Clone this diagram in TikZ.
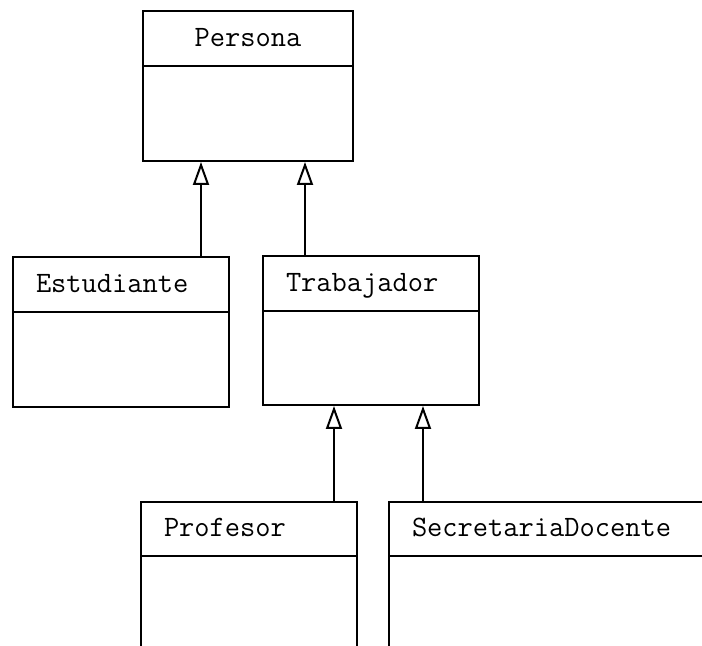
\documentclass[tikz,border=0pt]{standalone}
\usepackage{fontspec}
\usetikzlibrary{arrows.meta}

\begin{document}
\begin{tikzpicture}[x=0.5pt, y=-0.5pt, line width=1pt,
  clase/.style={draw, rectangle, anchor=north west, inner sep=0pt, minimum height=75pt},
  nombre/.style={font=\ttfamily\fontsize{14.8}{16}\selectfont, inner sep=0pt},
  hereda/.style={-{Triangle[open, length=11.5pt, width=8pt]}}]
\useasboundingbox (0,0) rectangle (702,646);
\clip (0,0) rectangle (702,646);

\node[clase, minimum width=105pt] (persona) at (142,10) {};
\draw ([yshift=-28pt]persona.north west) -- ([yshift=-28pt]persona.north east);
\node[nombre, anchor=base] (persona-t) at ([yshift=-18.5pt]persona.north) {Persona};

\node[clase, minimum width=108pt] (estudiante) at (12,256) {};
\draw ([yshift=-28pt]estudiante.north west) -- ([yshift=-28pt]estudiante.north east);
\node[nombre, anchor=base west] (estudiante-t) at ([xshift=11.5pt, yshift=-18.5pt]estudiante.north west) {Estudiante};

\node[clase, minimum width=108pt, minimum height=74.5pt] (trabajador) at (262,255) {};
\draw ([yshift=-28pt]trabajador.north west) -- ([yshift=-28pt]trabajador.north east);
\node[nombre, anchor=base west] (trabajador-t) at ([xshift=11.5pt, yshift=-18.5pt]trabajador.north west) {Trabajador};

\node[clase, minimum width=108pt] (profesor) at (140,501) {};
\draw ([yshift=-27.5pt]profesor.north west) -- ([yshift=-27.5pt]profesor.north east);
\node[nombre, anchor=base west] (profesor-t) at ([xshift=11.5pt, yshift=-18pt]profesor.north west) {Profesor};

\node[clase, minimum width=170pt] (secretaria) at (388,501) {};
\draw ([yshift=-27.5pt]secretaria.north west) -- ([yshift=-27.5pt]secretaria.north east);
\node[nombre, anchor=base west] (secretaria-t) at ([xshift=11.5pt, yshift=-18pt]secretaria.north west) {SecretariaDocente};

% herencia
\coordinate (e-up) at (201,0);
\coordinate (t-up) at (305,0);
\coordinate (p-up) at (334,0);
\coordinate (s-up) at (423,0);
\draw[hereda] (estudiante.north -| e-up) -- (persona.south -| e-up);
\draw[hereda] (trabajador.north -| t-up) -- (persona.south -| t-up);
\draw[hereda] (profesor.north -| p-up) -- (trabajador.south -| p-up);
\draw[hereda] (secretaria.north -| s-up) -- (trabajador.south -| s-up);
\end{tikzpicture}
\end{document}
